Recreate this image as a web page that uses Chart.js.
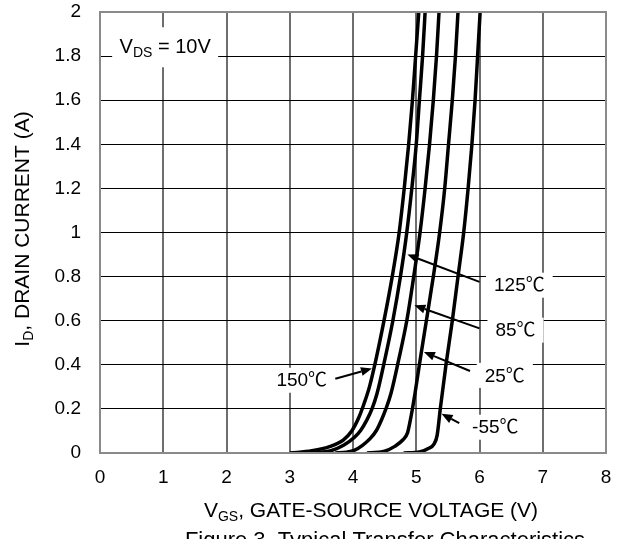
<!DOCTYPE html>
<html><head><meta charset="utf-8">
<script src="https://cdn.jsdelivr.net/npm/chart.js@4.4.1/dist/chart.umd.min.js"></script>
<style>html,body{margin:0;padding:0;background:#fff}canvas{display:block}</style>
</head><body>
<canvas id="c" width="621" height="539"></canvas>
<script>
// ---- data ----
const xTickValues = [0, 1, 2, 3, 4, 5, 6, 7, 8];
const xTickLabels = ['0', '1', '2', '3', '4', '5', '6', '7', '8'];
const yTickValues = [0, 0.2, 0.4, 0.6, 0.8, 1, 1.2, 1.4, 1.6, 1.8, 2];
const yTickLabels = ['0', '0.2', '0.4', '0.6', '0.8', '1', '1.2', '1.4', '1.6', '1.8', '2'];

const seriesNames = ['150℃', '125℃', '85℃', '25℃', '-55℃'];

const vgs150 = [3.00, 3.35, 3.64, 3.85, 3.98, 4.09, 4.17, 4.26, 4.36, 4.49, 4.62, 4.73, 4.81, 4.88, 4.94, 4.99, 5.04];
const id150  = [0.000, 0.010, 0.030, 0.060, 0.100, 0.160, 0.220, 0.300, 0.420, 0.600, 0.800, 1.000, 1.200, 1.400, 1.600, 1.800, 2.000];

const vgs125 = [3.35, 3.65, 3.85, 4.02, 4.12, 4.22, 4.30, 4.38, 4.50, 4.63, 4.75, 4.85, 4.93, 5.00, 5.05, 5.10, 5.14];
const id125  = [0.000, 0.010, 0.035, 0.070, 0.102, 0.150, 0.200, 0.270, 0.420, 0.600, 0.800, 1.000, 1.200, 1.400, 1.600, 1.800, 2.000];

const vgs85 = [3.72, 3.90, 4.02, 4.15, 4.27, 4.37, 4.45, 4.52, 4.60, 4.72, 4.85, 4.96, 5.06, 5.14, 5.21, 5.27, 5.32, 5.36];
const id85  = [0.000, 0.004, 0.012, 0.035, 0.065, 0.102, 0.150, 0.200, 0.270, 0.420, 0.600, 0.800, 1.000, 1.200, 1.400, 1.600, 1.800, 2.000];

const vgs25 = [4.22, 4.40, 4.50, 4.66, 4.79, 4.86, 4.90, 4.935, 4.98, 5.06, 5.16, 5.27, 5.37, 5.45, 5.51, 5.57, 5.62, 5.66];
const id25  = [0.000, 0.003, 0.008, 0.030, 0.060, 0.090, 0.140, 0.193, 0.270, 0.420, 0.600, 0.800, 1.000, 1.200, 1.400, 1.600, 1.800, 2.000];

const vgsM55 = [4.80, 5.05, 5.19, 5.28, 5.33, 5.38, 5.47, 5.57, 5.66, 5.75, 5.82, 5.88, 5.93, 5.97, 6.01];
const idM55  = [0.000, 0.005, 0.020, 0.040, 0.080, 0.200, 0.400, 0.600, 0.800, 1.000, 1.200, 1.400, 1.600, 1.800, 2.000];

// ---- annotation layout (label centre, arrow start, arrow tip in data units) ----
const FONT = '"Liberation Sans", Arial, "Noto Sans CJK SC", sans-serif';
const TICK_FS = 19, CALL_FS = 19, NOTE_FS = 20, TITLE_FS = 21, CAP_FS = 22;
const callouts = [
  { text: '125℃', lx: 6.63, ly: 0.761, ax: 6.00, ay: 0.776, tx: 4.86, ty: 0.90 },
  { text: '85℃',  lx: 6.57, ly: 0.557, ax: 6.00, ay: 0.565, tx: 4.97, ty: 0.67 },
  { text: '25℃',  lx: 6.40, ly: 0.352, ax: 5.85, ay: 0.372, tx: 5.12, ty: 0.458 },
  { text: '-55℃', lx: 6.25, ly: 0.117, ax: 5.68, ay: 0.135, tx: 5.40, ty: 0.178 },
  { text: '150℃', lx: 3.19, ly: 0.330, ax: 3.72, ay: 0.337, tx: 4.30, ty: 0.383 }
];

function mk(v, i) { return v.map((x, k) => ({ x: x, y: i[k] })); }
const datasets = [
  [vgs150, id150], [vgs125, id125], [vgs85, id85], [vgs25, id25], [vgsM55, idM55]
].map((p, k) => ({
  label: seriesNames[k],
  data: mk(p[0], p[1]),
  showLine: true,
  borderColor: '#000',
  borderWidth: 3.5,
  pointRadius: 0,
  cubicInterpolationMode: 'monotone',
  fill: false
}));

function font(sz) { return sz + 'px ' + FONT; }

function drawRich(ctx, parts, x, y, align, fs) {
  let w = 0;
  const items = parts.map(p => {
    const sz = p[1] ? Math.round(fs * 0.68) : fs;
    ctx.font = font(sz);
    const m = ctx.measureText(p[0]).width;
    w += m;
    return { t: p[0], sub: p[1], sz: sz, w: m };
  });
  let cx = align === 'center' ? x - w / 2 : x;
  ctx.textBaseline = 'middle';
  ctx.textAlign = 'left';
  items.forEach(it => {
    ctx.font = font(it.sz);
    ctx.fillText(it.t, cx, y + (it.sub ? fs * 0.28 : 0));
    cx += it.w;
  });
  return w;
}

const overlay = {
  id: 'overlay',
  afterDatasetsDraw(chart) {
    const ctx = chart.ctx, a = chart.chartArea;
    const xs = chart.scales.x, ys = chart.scales.y;
    ctx.save();
    ctx.strokeStyle = '#8a8a8a';
    ctx.lineWidth = 2;
    ctx.strokeRect(a.left, a.top, a.right - a.left, a.bottom - a.top);

    const vx = xs.getPixelForValue(1.03), vy = ys.getPixelForValue(1.84);
    ctx.fillStyle = '#fff';
    ctx.fillRect(vx - 53, vy - 20, 106, 40);
    ctx.fillStyle = '#000';
    drawRich(ctx, [['V', false], ['DS', true], [' = 10V', false]], vx, vy, 'center', NOTE_FS);

    callouts.forEach(c => {
      const lx = xs.getPixelForValue(c.lx), ly = ys.getPixelForValue(c.ly);
      const ax = xs.getPixelForValue(c.ax), ay = ys.getPixelForValue(c.ay);
      const tx = xs.getPixelForValue(c.tx), ty = ys.getPixelForValue(c.ty);
      ctx.font = font(CALL_FS);
      const w = ctx.measureText(c.text).width;
      ctx.fillStyle = '#fff';
      ctx.fillRect(lx - w / 2 - 8, ly - CALL_FS / 2 - 3, w + 16, CALL_FS + 6);
      ctx.fillStyle = '#000';
      ctx.textAlign = 'center';
      ctx.textBaseline = 'middle';
      ctx.fillText(c.text, lx, ly + 1);
      const ang = Math.atan2(ty - ay, tx - ax);
      const hl = 11, hw = 4.5;
      const bx = tx - hl * Math.cos(ang), by = ty - hl * Math.sin(ang);
      ctx.strokeStyle = '#000';
      ctx.lineWidth = 2;
      ctx.beginPath(); ctx.moveTo(ax, ay); ctx.lineTo(bx, by); ctx.stroke();
      ctx.beginPath();
      ctx.moveTo(tx, ty);
      ctx.lineTo(bx + hw * Math.sin(ang), by - hw * Math.cos(ang));
      ctx.lineTo(bx - hw * Math.sin(ang), by + hw * Math.cos(ang));
      ctx.closePath();
      ctx.fill();
    });
    ctx.restore();
  },
  afterDraw(chart) {
    const ctx = chart.ctx, a = chart.chartArea;
    ctx.save();
    ctx.fillStyle = '#000';
    drawRich(ctx, [['V', false], ['GS', true], [', GATE-SOURCE VOLTAGE (V)', false]], 371, 511, 'center', TITLE_FS);
    ctx.save();
    ctx.translate(23, 229);
    ctx.rotate(-Math.PI / 2);
    drawRich(ctx, [['I', false], ['D', true], [', DRAIN CURRENT (A)', false]], 0, 0, 'center', TITLE_FS);
    ctx.restore();
    ctx.font = font(CAP_FS);
    ctx.textAlign = 'center';
    ctx.textBaseline = 'top';
    ctx.fillText('Figure 3. Typical Transfer Characteristics', 385, 530);
    ctx.restore();
  }
};

new Chart(document.getElementById('c'), {
  type: 'scatter',
  data: { datasets: datasets },
  options: {
    responsive: false,
    animation: false,
    devicePixelRatio: 1,
    layout: { padding: { top: 12, right: 15, left: 0, bottom: 0 } },
    plugins: { legend: { display: false }, tooltip: { enabled: false } },
    scales: {
      x: {
        type: 'linear', min: 0, max: 8,
        afterBuildTicks: s => { s.ticks = xTickValues.map(v => ({ value: v })); },
        afterFit: s => { s.height = 86; s.paddingLeft = 0; s.paddingRight = 0; },
        ticks: { color: '#000', font: { family: FONT, size: TICK_FS }, padding: 13, maxRotation: 0,
                 callback: (v, i) => xTickLabels[i] },
        grid: { color: '#6e6e6e', lineWidth: 2, drawTicks: false },
        border: { display: false }
      },
      y: {
        type: 'linear', min: 0, max: 2,
        afterBuildTicks: s => { s.ticks = yTickValues.map(v => ({ value: v })); },
        afterFit: s => { s.width = 100; s.paddingTop = 0; s.paddingBottom = 0; },
        ticks: { color: '#000', font: { family: FONT, size: TICK_FS }, padding: 19,
                 callback: (v, i) => yTickLabels[i] },
        grid: { color: '#000', lineWidth: 1, drawTicks: false },
        border: { display: false }
      }
    }
  },
  plugins: [overlay]
});
</script>
</body></html>
